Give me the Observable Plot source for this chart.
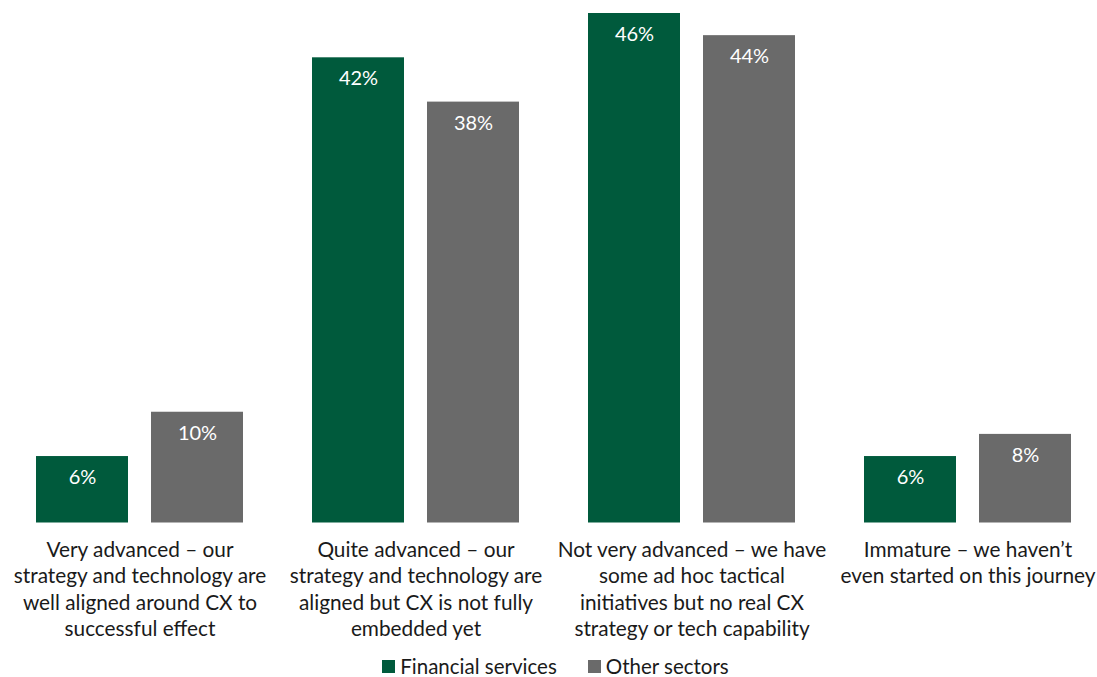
<!DOCTYPE html>
<html>
<head>
<meta charset="utf-8">
<script src="https://cdn.jsdelivr.net/npm/d3@7"></script>
<script src="https://cdn.jsdelivr.net/npm/@observablehq/plot@0.6"></script>
<style>
  html, body { margin: 0; padding: 0; background: #fff; }
  #chart { width: 1097px; font-family: Lato, "Open Sans", sans-serif; }
  .legend { display: flex; justify-content: center; gap: 31px; font-size: 20.5px; color: #1a1a1a; margin-top: 8px; height: 32px; align-items: center; padding-left: 14px; }
  .legend span.item { display: inline-flex; align-items: center; }
  .legend i { display: inline-block; width: 13px; height: 13px; margin-right: 5px; }
</style>
</head>
<body>
<div id="chart"></div>
<script>
const categories = [
  "Very advanced – our\nstrategy and technology are\nwell aligned around CX to\nsuccessful effect",
  "Quite advanced – our\nstrategy and technology are\naligned but CX is not fully\nembedded yet",
  "Not very advanced – we have\nsome ad hoc tactical\ninitiatives but no real CX\nstrategy or tech capability",
  "Immature – we haven’t\neven started on this journey"
];
const series = ["Financial services", "Other sectors"];
const financial = [6, 42, 46, 6];
const other = [10, 38, 44, 8];
const colors = ["#005a3c", "#6a6a6a"];

const data = [];
categories.forEach((c, i) => {
  data.push({category: c, series: series[0], value: financial[i]});
  data.push({category: c, series: series[1], value: other[i]});
});

const chart = Plot.plot({
  width: 1097,
  height: 642,
  marginTop: 13,
  marginBottom: 119.5,
  marginLeft: 35,
  marginRight: 25,
  style: {fontFamily: "Lato, 'Open Sans', sans-serif", background: "#fff"},
  fx: {domain: categories, paddingInner: 0.2518, paddingOuter: 0, label: null},
  x: {domain: series, paddingInner: 0.2, paddingOuter: 0, axis: null},
  y: {domain: [0, 46], axis: null},
  color: {domain: series, range: colors},
  marks: [
    Plot.barY(data, {fx: "category", x: "series", y: "value", fill: "series"}),
    Plot.text(data, {fx: "category", x: "series", y: "value", text: d => d.value + "%", fill: "white", dy: 21, fontSize: 20}),
    Plot.axisFx({anchor: "bottom", tickSize: 0, tickPadding: 15.5, fontSize: 20.8, lineHeight: 1.265, fill: "#1a1a1a", label: null, tickFormat: d => d})
  ]
});
document.getElementById("chart").appendChild(chart);

const legend = document.createElement("div");
legend.className = "legend";
series.forEach((s, i) => {
  const item = document.createElement("span");
  item.className = "item";
  const sw = document.createElement("i");
  sw.style.background = colors[i];
  item.appendChild(sw);
  item.appendChild(document.createTextNode(s));
  legend.appendChild(item);
});
document.getElementById("chart").appendChild(legend);
</script>
</body>
</html>
